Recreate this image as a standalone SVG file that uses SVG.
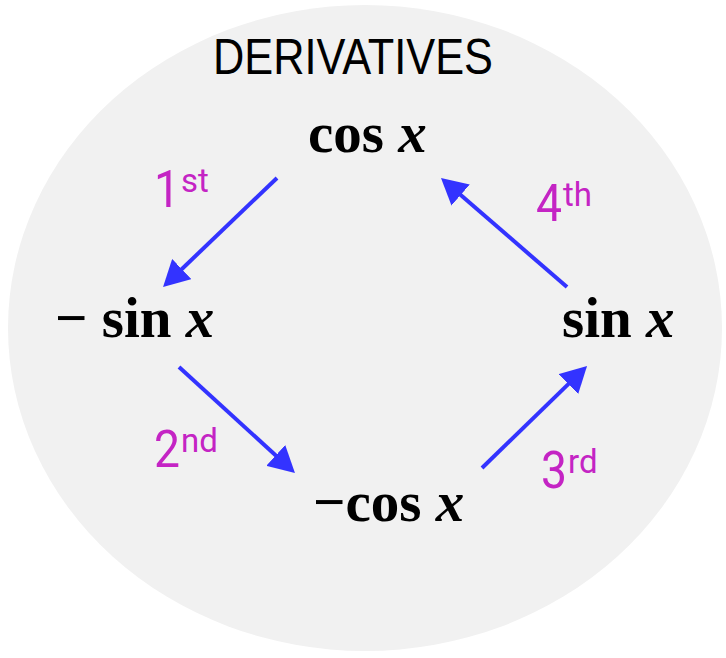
<svg xmlns="http://www.w3.org/2000/svg" width="726" height="658" viewBox="0 0 726 658">
  <style>
    .title { font-family: "Liberation Sans", Arial, sans-serif; font-size: 50px; fill: #000; }
    .math { font-family: "Liberation Serif", serif; font-weight: bold; font-size: 57px; fill: #000; }
    .var { font-style: italic; }
    .ord { font-family: Roboto, "Liberation Sans", sans-serif; font-size: 52px; fill: #c424c4; }
    .sup { font-family: Roboto, "Liberation Sans", sans-serif; font-size: 33px; fill: #c424c4; }
    .arrow { stroke: #3333ff; stroke-width: 4; fill: none; marker-end: url(#head); }
  </style>
  <defs>
    <marker id="head" markerUnits="userSpaceOnUse" markerWidth="26" markerHeight="28" refX="6" refY="14" orient="auto">
      <path d="M0,0 L26,14 L0,28 z" fill="#3333ff"/>
    </marker>
  </defs>
  <ellipse cx="365" cy="328" rx="357" ry="323" fill="#f1f1f1"/>
  <text class="title" x="213" y="74" textLength="280" lengthAdjust="spacingAndGlyphs">DERIVATIVES</text>
  <g id="connectors">
    <line class="arrow" x1="277" y1="178" x2="177.5" y2="273.2"/>
    <line class="arrow" x1="179" y1="367" x2="280.2" y2="459.5"/>
    <line class="arrow" x1="482" y1="468" x2="572.7" y2="379.9"/>
    <line class="arrow" x1="567" y1="287" x2="456.1" y2="191.1"/>
  </g>
  <g id="label-1st">
    <text class="ord" x="154" y="207" textLength="26" lengthAdjust="spacingAndGlyphs">1</text>
    <text class="sup" x="181" y="192">st</text>
  </g>
  <g id="label-2nd">
    <text class="ord" x="154" y="467" textLength="26" lengthAdjust="spacingAndGlyphs">2</text>
    <text class="sup" x="181" y="452">nd</text>
  </g>
  <g id="label-3rd">
    <text class="ord" x="541" y="488" textLength="26" lengthAdjust="spacingAndGlyphs">3</text>
    <text class="sup" x="568" y="473">rd</text>
  </g>
  <g id="label-4th">
    <text class="ord" x="536" y="221" textLength="26" lengthAdjust="spacingAndGlyphs">4</text>
    <text class="sup" x="563" y="206">th</text>
  </g>
  <g id="node-cos">
    <text class="math" x="308" y="152">cos <tspan class="var">x</tspan></text>
  </g>
  <g id="node-neg-sin">
    <text class="math" x="55" y="337">− sin <tspan class="var">x</tspan></text>
  </g>
  <g id="node-sin">
    <text class="math" x="562" y="337">sin <tspan class="var">x</tspan></text>
  </g>
  <g id="node-neg-cos">
    <text class="math" x="313" y="521">−cos <tspan class="var">x</tspan></text>
  </g>
</svg>
